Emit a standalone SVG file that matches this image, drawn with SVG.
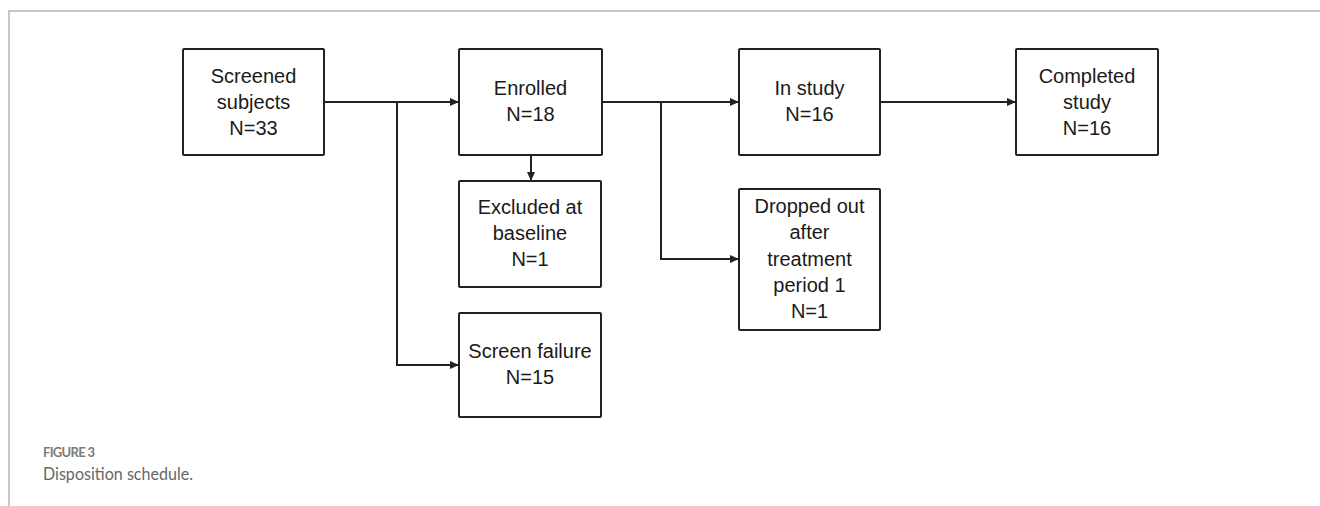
<svg xmlns="http://www.w3.org/2000/svg" width="1320" height="506" viewBox="0 0 1320 506">
<style>
.box{fill:#fff;stroke:#222;stroke-width:2}
.t{font-family:"Liberation Sans",Arial,sans-serif;font-size:20px;fill:#1a1a1a;text-anchor:middle}
.c{fill:none;stroke:#222;stroke-width:2}
.frame{fill:none;stroke:#b5b5b5;stroke-width:1.5}
.fig{font-family:Lato,"Open Sans",sans-serif;font-size:13px;font-weight:bold;fill:#7a7a7a}
.cap{font-family:Lato,"Open Sans",sans-serif;font-size:18px;fill:#666}
</style>
<defs>
<marker id="arr" markerUnits="userSpaceOnUse" markerWidth="11" markerHeight="10" refX="9" refY="4" orient="auto">
<path d="M0,0 L9,4 L0,8 z" fill="#222"/>
</marker>
</defs>
<rect width="1320" height="506" fill="#fff"/>
<path class="frame" d="M9,506 V11 H1320"/>
<g id="connectors">
<path class="c" d="M324,102 H459" marker-end="url(#arr)"/>
<path class="c" d="M397,102 V365 H459" marker-end="url(#arr)"/>
<path class="c" d="M531,155 V181" marker-end="url(#arr)"/>
<path class="c" d="M602,102 H739" marker-end="url(#arr)"/>
<path class="c" d="M661,102 V259 H739" marker-end="url(#arr)"/>
<path class="c" d="M880,102 H1016" marker-end="url(#arr)"/>
</g>
<g id="screened">
<rect class="box" x="183" y="49" width="141" height="106" rx="1"/>
<text class="t" x="253.5" y="83">Screened</text>
<text class="t" x="253.5" y="109">subjects</text>
<text class="t" x="253.5" y="135">N=33</text>
</g>
<g id="enrolled">
<rect class="box" x="459" y="49" width="143" height="106" rx="1"/>
<text class="t" x="530.5" y="95">Enrolled</text>
<text class="t" x="530.5" y="121">N=18</text>
</g>
<g id="instudy">
<rect class="box" x="739" y="49" width="141" height="106" rx="1"/>
<text class="t" x="809.5" y="95">In study</text>
<text class="t" x="809.5" y="121">N=16</text>
</g>
<g id="completed">
<rect class="box" x="1016" y="49" width="142" height="106" rx="1"/>
<text class="t" x="1087" y="83">Completed</text>
<text class="t" x="1087" y="109">study</text>
<text class="t" x="1087" y="135">N=16</text>
</g>
<g id="excluded">
<rect class="box" x="459" y="181" width="142" height="106" rx="1"/>
<text class="t" x="530" y="214">Excluded at</text>
<text class="t" x="530" y="240">baseline</text>
<text class="t" x="530" y="266">N=1</text>
</g>
<g id="screenfailure">
<rect class="box" x="459" y="313" width="142" height="104" rx="1"/>
<text class="t" x="530" y="358">Screen failure</text>
<text class="t" x="530" y="384">N=15</text>
</g>
<g id="dropped">
<rect class="box" x="739" y="189" width="141" height="141" rx="1"/>
<text class="t" x="809.5" y="213">Dropped out</text>
<text class="t" x="809.5" y="239">after</text>
<text class="t" x="809.5" y="266">treatment</text>
<text class="t" x="809.5" y="292">period 1</text>
<text class="t" x="809.5" y="318">N=1</text>
</g>
<text class="fig" x="43" y="457" textLength="52">FIGURE 3</text>
<text class="cap" x="43" y="480" textLength="150" lengthAdjust="spacingAndGlyphs">Disposition schedule.</text>
</svg>
